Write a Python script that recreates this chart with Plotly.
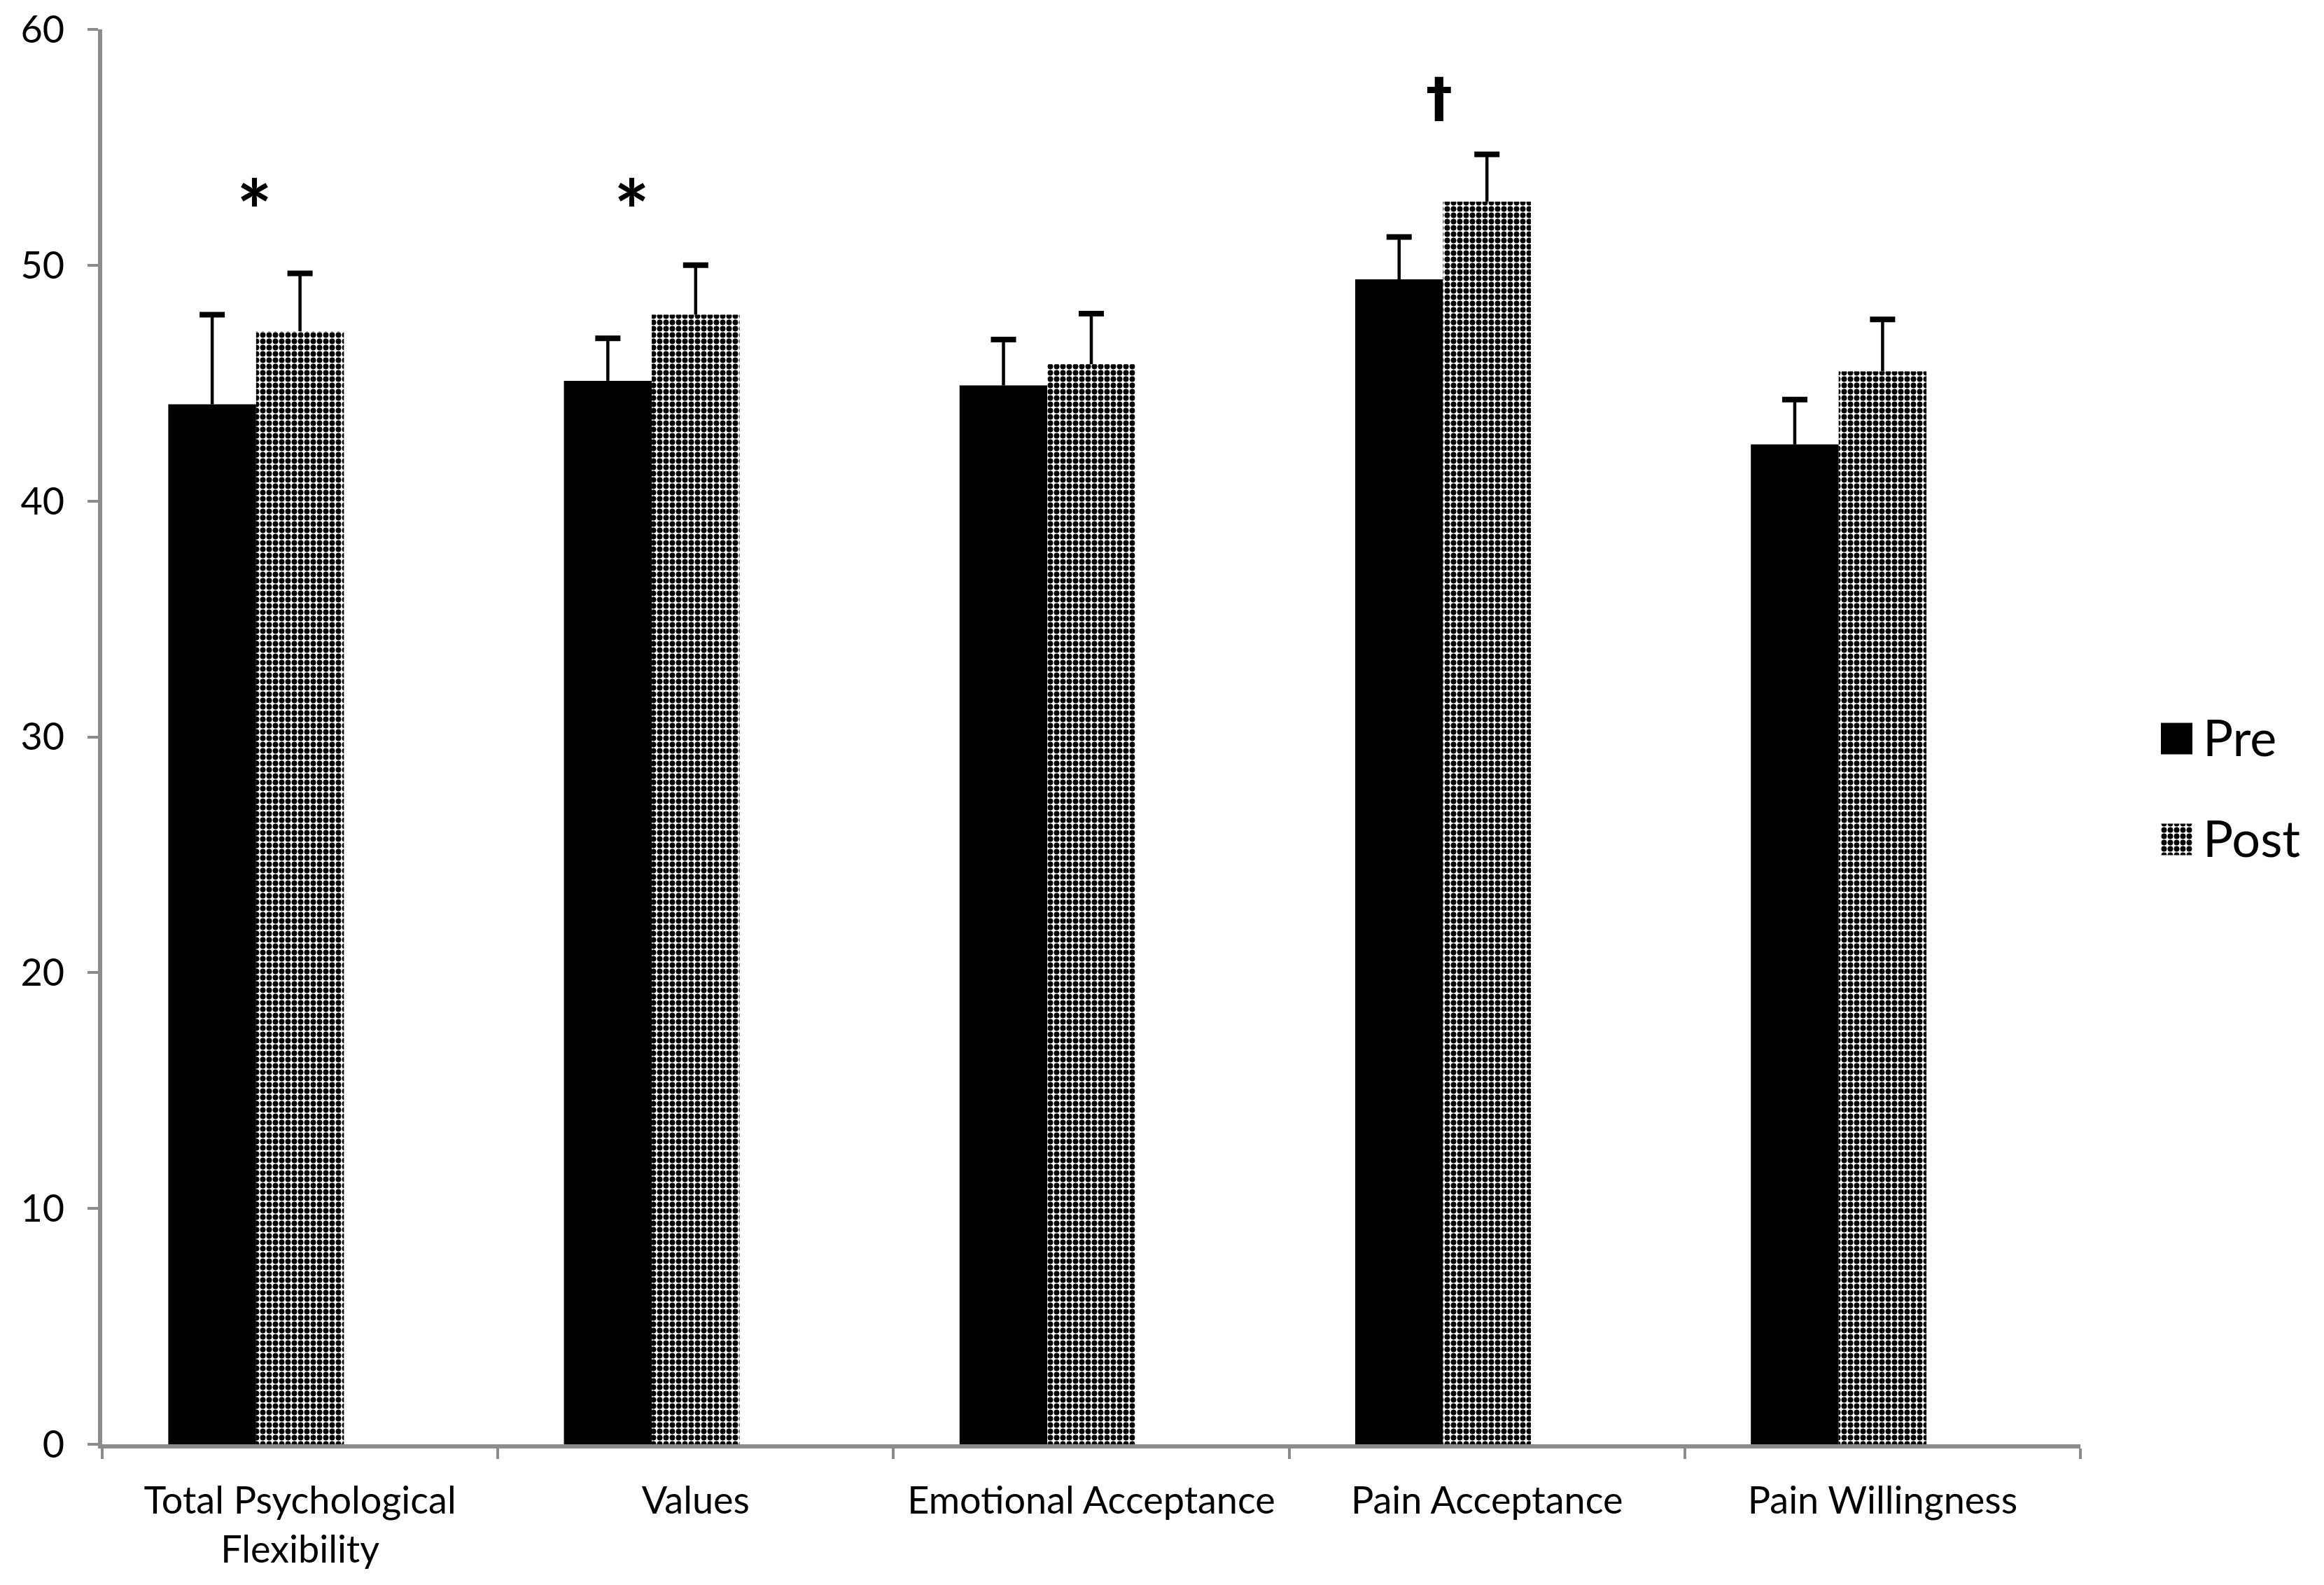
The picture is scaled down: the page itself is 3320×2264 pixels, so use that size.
import plotly.graph_objects as go

categories = ['Total Psychological<br>Flexibility', 'Values', 'Emotional Acceptance',
              'Pain Acceptance', 'Pain Willingness']
pre = [44.1, 45.1, 44.9, 49.4, 42.4]
pre_err = [3.8, 1.8, 1.95, 1.8, 1.9]
post = [47.2, 47.9, 45.8, 52.7, 45.5]
post_err = [2.45, 2.1, 2.15, 2.0, 2.2]
# significance marks: position in category units, height in data units
sig_marks = ['*', '*', '\u2020']
sig_x = [-0.115, 0.838, 2.879]
sig_y = [53.0, 53.0, 57.0]
legend_keys = ['Pre', 'Post']

FONT = 'Lato'
BAR_W = 0.222
PRE_OFF, POST_OFF = -0.333, -0.111
AXIS_GREY = '#8c8c8c'
CHECKER = dict(shape='.', fgcolor='black', bgcolor='white', fillmode='replace',
               size=9, solidity=0.6)

# the page body adds an 8px margin, so the figure is a bit smaller than the window
PAGE = 8
W, H = 3320 - 2 * PAGE, 2264 - 2 * PAGE
L, R, T = 146 - PAGE, 20, 42 - PAGE
B = H - (2063 - PAGE)
paper_w = W - L - R
plot_h = H - T - B
main_right = 2972 - PAGE

fig = go.Figure()


def add_series(name, vals, errs, offset, marker):
    # bar plus error stem (no caps)
    fig.add_bar(x=categories, y=vals, name=name, width=BAR_W, offset=offset,
                marker=marker, showlegend=False,
                error_y=dict(type='data', symmetric=False, array=errs,
                             arrayminus=[0] * len(vals), color='black',
                             thickness=4.5, width=0))
    # cap only at the top of the error bar
    tops = [v + e for v, e in zip(vals, errs)]
    fig.add_bar(x=categories, y=tops, width=BAR_W, offset=offset,
                marker=dict(color='rgba(0,0,0,0)', line_width=0),
                showlegend=False, hoverinfo='skip',
                error_y=dict(type='data', symmetric=False, array=[0] * len(vals),
                             arrayminus=[0] * len(vals), color='black',
                             thickness=8, width=18))


add_series('Pre', pre, pre_err, PRE_OFF, dict(color='black', line_width=0))
add_series('Post', post, post_err, POST_OFF,
           dict(color='white', line_width=0, pattern=CHECKER))

for mark, xv, yv in zip(sig_marks, sig_x, sig_y):
    if mark == '*':
        font = dict(family=FONT, size=120, color='black')
        shift = -22
    else:
        font = dict(family='DejaVu Sans', size=76, color='black')
        shift = 4
    fig.add_annotation(x=xv, y=yv, xref='x', yref='y', text='<b>' + mark + '</b>',
                       showarrow=False, yanchor='middle', yshift=shift, font=font)

# legend keys drawn on a small side axis so that the swatches can be large
fig.add_bar(y=[legend_keys[0]], x=[1], orientation='h', width=0.3125, xaxis='x2', yaxis='y2',
            marker=dict(color='black', line_width=0), showlegend=False, hoverinfo='skip')
fig.add_bar(y=[legend_keys[1]], x=[1], orientation='h', width=0.3125, xaxis='x2', yaxis='y2',
            marker=dict(color='white', line_width=0, pattern=CHECKER),
            showlegend=False, hoverinfo='skip')

fig.update_layout(
    width=W, height=H,
    plot_bgcolor='white', paper_bgcolor='white',
    margin=dict(l=L, r=R, t=T, b=B),
    barmode='overlay',
    showlegend=False,
    xaxis=dict(
        domain=[0, (main_right - L) / paper_w], automargin=False,
        type='category', tickson='boundaries', ticks='outside', ticklen=15, tickwidth=4,
        tickcolor=AXIS_GREY, showline=True, linecolor=AXIS_GREY, linewidth=6,
        showgrid=False, ticklabelstandoff=28,
        tickfont=dict(family=FONT, size=54, color='black'),
    ),
    yaxis=dict(
        range=[0, 60], dtick=10, ticks='outside', ticklen=15, tickwidth=4, automargin=False,
        tickcolor=AXIS_GREY, showline=True, linecolor=AXIS_GREY, linewidth=6,
        showgrid=False, zeroline=False, ticklabelstandoff=22, ticklabeloverflow='allow',
        tickfont=dict(family=FONT, size=54, color='black'),
    ),
    xaxis2=dict(domain=[(3087 - PAGE - L) / paper_w, (3132 - PAGE - L) / paper_w],
                range=[0, 1], visible=False, fixedrange=True, anchor='y2', automargin=False),
    yaxis2=dict(domain=[(H - B - (1271 - PAGE)) / plot_h, (H - B - (983 - PAGE)) / plot_h],
                type='category', categoryorder='array', categoryarray=legend_keys[::-1],
                anchor='x2', side='right', showline=False, showgrid=False, zeroline=False,
                ticks='', ticklabelstandoff=14, automargin=False,
                tickfont=dict(family=FONT, size=72, color='black')),
)

fig.write_html('out.html')
